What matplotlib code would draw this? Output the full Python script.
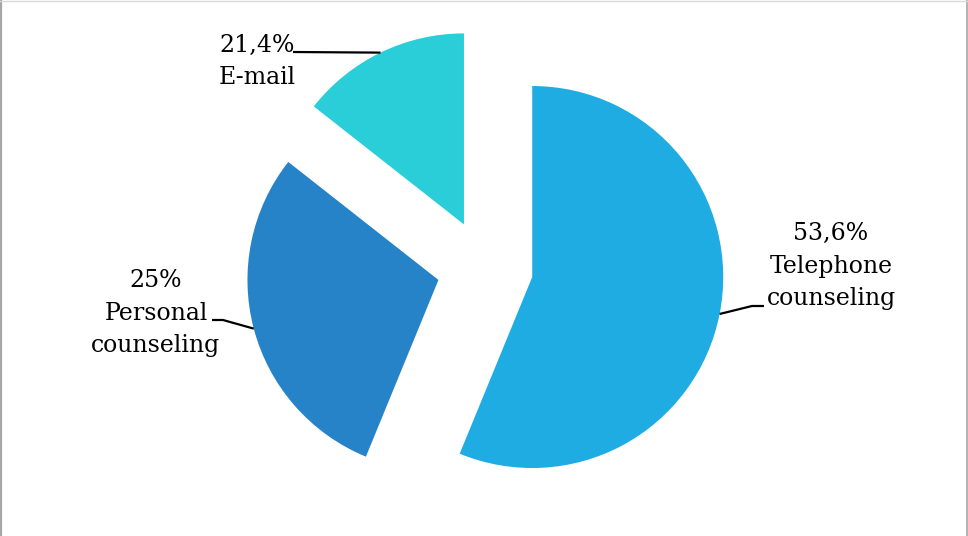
import numpy as np
import matplotlib
matplotlib.use("Agg")
import matplotlib.pyplot as plt
from matplotlib.lines import Line2D

# ---- data ----
categories = ["Telephone\ncounseling", "Personal\ncounseling", "E-mail"]
shares = [56.2, 29.4, 14.4]             # slice sizes as drawn
pct_labels = ["53,6%", "25%", "21,4%"]  # label text as printed
colors = ["#1EACE3", "#2783C7", "#29CED9"]

# ---- layout ----
W, H = 968, 536
R_PX = 191.0
CX, CY = 485.0, 267.7
EXPLODE = 0.252


def px(x, y):
    return ((x - CX) / R_PX, (CY - y) / R_PX)


fig = plt.figure(figsize=(W / 100, H / 100), dpi=100)
ax = fig.add_axes([0, 0, 1, 1])
wedges, _ = ax.pie(shares, colors=colors, startangle=90, counterclock=False,
                   explode=[EXPLODE] * len(shares), radius=1.0,
                   wedgeprops=dict(linewidth=0, antialiased=True))
x0, _ = px(0, 0)
x1, _ = px(W, 0)
_, y0 = px(0, H)
_, y1 = px(0, 0)
ax.set_xlim(x0, x1)
ax.set_ylim(y0, y1)
ax.set_aspect("equal", adjustable="box")
ax.axis("off")

# label layout: (text x px, first baseline px, ha, elbow px, end px)
layouts = [
    dict(x=831, y=240, ha="center", elbow=(752, 306), end=(764, 306)),
    dict(x=156, y=287, ha="center", elbow=(223, 320), end=(212, 320)),
    dict(x=219, y=52, ha="left", elbow=(293, 52), end=(293, 52)),
]
LINE_PX = 32.5
font = dict(family="DejaVu Serif", size=17, color="black")

for w, cat, pct, lay in zip(wedges, categories, pct_labels, layouts):
    # anchor on arc at the wedge's mid angle
    tm = np.deg2rad((w.theta1 + w.theta2) / 2)
    cx, cy = w.center
    ax_pt = (cx + w.r * np.cos(tm), cy + w.r * np.sin(tm))
    ex, ey = px(*lay["elbow"])
    nx, ny = px(*lay["end"])
    ax.plot([ax_pt[0], ex, nx], [ax_pt[1], ey, ny], color="black",
            lw=1.6, solid_capstyle="butt", zorder=3)
    lines = [pct] + cat.split("\n")
    for i, line in enumerate(lines):
        tx, ty = px(lay["x"], lay["y"] + i * LINE_PX)
        ax.text(tx, ty, line, ha=lay["ha"], va="baseline", **font)

# chart border
fig.add_artist(Line2D([1 / W, 1 / W], [0, 1], color="#A6A6A6", lw=1.6,
                      transform=fig.transFigure))
fig.add_artist(Line2D([966.5 / W, 966.5 / W], [0, 1], color="#A6A6A6",
                      lw=1.2, transform=fig.transFigure))
fig.add_artist(Line2D([0, 1], [1 - 0.5 / H, 1 - 0.5 / H], color="#D9D9D9",
                      lw=1.0, transform=fig.transFigure))

fig.savefig("out.png", dpi=100)
